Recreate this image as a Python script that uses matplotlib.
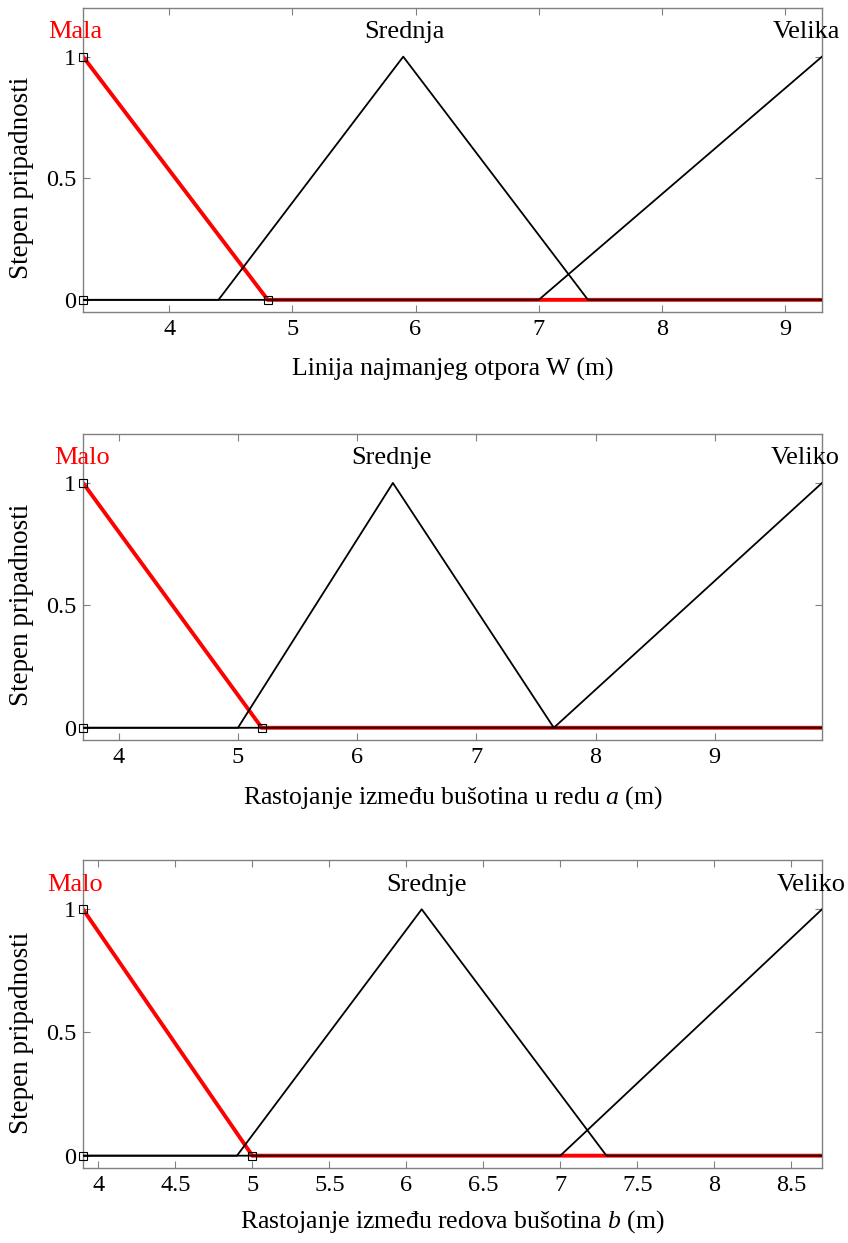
import matplotlib
matplotlib.use("Agg")
import matplotlib.pyplot as plt

plt.rcParams['font.family'] = ['Liberation Serif', 'DejaVu Serif']
plt.rcParams['mathtext.fontset'] = 'custom'
plt.rcParams['mathtext.rm'] = 'Liberation Serif'
plt.rcParams['mathtext.it'] = 'Liberation Serif:italic'

# Panel 1 - linija najmanjeg otpora W
w_lim = [3.3, 9.3]
w_ticks = [4, 5, 6, 7, 8, 9]
w_mala_x = [3.3, 4.8, 9.3]
w_mala_y = [1, 0, 0]
w_srednja_x = [3.3, 4.4, 5.9, 7.4, 9.3]
w_srednja_y = [0, 0, 1, 0, 0]
w_velika_x = [3.3, 7.0, 9.3]
w_velika_y = [0, 0, 1]
w_names = ['Mala', 'Srednja', 'Velika']
w_name_x = [3.235, 5.91, 9.17]

# Panel 2 - rastojanje u redu a
a_lim = [3.7, 9.9]
a_ticks = [4, 5, 6, 7, 8, 9]
a_malo_x = [3.7, 5.2, 9.9]
a_malo_y = [1, 0, 0]
a_srednje_x = [3.7, 5.0, 6.3, 7.65, 9.9]
a_srednje_y = [0, 0, 1, 0, 0]
a_veliko_x = [3.7, 7.65, 9.9]
a_veliko_y = [0, 0, 1]
a_names = ['Malo', 'Srednje', 'Veliko']
a_name_x = [3.69, 6.29, 9.76]

# Panel 3 - rastojanje izmedju redova b
b_lim = [3.9, 8.7]
b_ticks = [4, 4.5, 5, 5.5, 6, 6.5, 7, 7.5, 8, 8.5]
b_malo_x = [3.9, 5.0, 8.7]
b_malo_y = [1, 0, 0]
b_srednje_x = [3.9, 4.9, 6.1, 7.3, 8.7]
b_srednje_y = [0, 0, 1, 0, 0]
b_veliko_x = [3.9, 7.0, 8.7]
b_veliko_y = [0, 0, 1]
b_names = ['Malo', 'Srednje', 'Veliko']
b_name_x = [3.85, 6.13, 8.63]

panels = [
    (w_lim, w_ticks, (w_mala_x, w_mala_y), [(w_srednja_x, w_srednja_y), (w_velika_x, w_velika_y)],
     w_names, w_name_x, 'Linija najmanjeg otpora W (m)'),
    (a_lim, a_ticks, (a_malo_x, a_malo_y), [(a_srednje_x, a_srednje_y), (a_veliko_x, a_veliko_y)],
     a_names, a_name_x, r'Rastojanje između bušotina u redu $a$ (m)'),
    (b_lim, b_ticks, (b_malo_x, b_malo_y), [(b_srednje_x, b_srednje_y), (b_veliko_x, b_veliko_y)],
     b_names, b_name_x, r'Rastojanje između redova bušotina $b$ (m)'),
]

W, H = 848, 1243
fig = plt.figure(figsize=(W / 100, H / 100), dpi=100)
# (top, bottom, xlabel offset) in pixels
boxes = [(8, 312, 46), (434, 740, 44), (860, 1168, 40)]
gray = '#808080'

for (top, bot, xoff), (lim, ticks, red, blacks, names, name_x, xlab) in zip(boxes, panels):
    ax = fig.add_axes([83 / W, 1 - bot / H, 739 / W, (bot - top) / H])
    ax.plot(red[0], red[1], color='red', lw=2.8, zorder=2, solid_joinstyle='miter')
    for bx, by in blacks:
        ax.plot(bx, by, color='black', lw=1.3, zorder=3)
    # markers on the selected (red) membership function
    ax.plot([red[0][0], red[0][0], red[0][1]], [0, 1, 0], ls='none', marker='s', ms=6,
            mfc='none', mec='black', mew=0.8, zorder=4, clip_on=False)
    ax.set_xlim(lim)
    ax.set_ylim(-0.05, 1.2)
    ax.set_xticks(ticks)
    ax.set_xticklabels([('%g' % t) for t in ticks])
    ax.set_yticks([0, 0.5, 1])
    ax.set_yticklabels(['0', '0.5', '1'])
    ax.tick_params(direction='in', length=5, width=0.8, color=gray, labelsize=17.5,
                   top=True, right=True, pad=5)
    for s in ax.spines.values():
        s.set_color(gray)
        s.set_linewidth(1.0)
    for i, (nm, nx) in enumerate(zip(names, name_x)):
        ax.text(nx, 1.1, nm, ha='center', va='center', fontsize=19,
                color='red' if i == 0 else 'black', clip_on=False)
    ax.set_ylabel('Stepen pripadnosti', fontsize=19.5)
    ax.yaxis.set_label_coords(-0.066, 0.44)
    ax.set_xlabel(xlab, fontsize=18.5)
    ax.xaxis.set_label_coords(0.5, -xoff / (bot - top))

fig.savefig('out.png', dpi=100)
